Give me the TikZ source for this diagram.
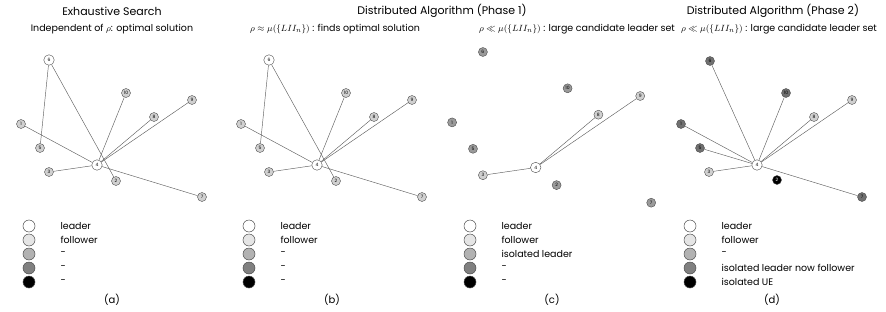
\documentclass[tikz,border=0pt]{standalone}
\usepackage{fontspec}
\setmainfont{Poppins}
\usepackage{amsmath}
\definecolor{follow}{HTML}{D0D0D0}
\definecolor{isol}{HTML}{9A9A9A}
\definecolor{nowfol}{HTML}{707070}
\definecolor{edgegray}{HTML}{606060}
\tikzset{
  ue/.style={circle,draw=black!70,line width=0.4pt,inner sep=0.5pt,minimum size=9pt,font=\fontsize{4.5}{4.5}\selectfont},
  lead/.style={ue,fill=white,minimum size=10.5pt},
  fol/.style={ue,fill=follow},
  iso/.style={ue,fill=isol},
  nowf/.style={ue,fill=nowfol},
  lone/.style={ue,fill=black,text=white},
  link/.style={draw=edgegray,line width=0.45pt},
  legdot/.style={circle,draw=black!70,line width=0.5pt,minimum size=12pt,inner sep=0pt},
  legtxt/.style={anchor=west,font=\fontsize{9.5}{9.5}\selectfont},
  ttl/.style={font=\fontsize{11}{11}\selectfont},
  subttl/.style={font=\fontsize{9.5}{9.5}\selectfont},
  capt/.style={font=\fontsize{10}{10}\selectfont}
}
\begin{document}
\begin{tikzpicture}[x=1pt,y=-1pt]
    \useasboundingbox (0,0) rectangle (886,311);
    % titles
    \node[ttl] (ta) at (112,11) {Exhaustive Search};
    \node[subttl] (sa) at (112,29) {Independent of $\rho$: optimal solution};
    \node[ttl] (tbc) at (442,11) {Distributed Algorithm (Phase 1)};
    \node[subttl] (sb) at (335,29) {$\rho\approx\mu(\{LII_n\})$ : finds optimal solution};
    \node[subttl] (sc) at (577,29) {$\rho\ll\mu(\{LII_n\})$ : large candidate leader set};
    \node[ttl] (td) at (773,11) {Distributed Algorithm (Phase 2)};
    \node[subttl] (sd) at (779,29) {$\rho\ll\mu(\{LII_n\})$ : large candidate leader set};

    % (a) exhaustive search
    \begin{scope}
        \draw (49,60) node[lead] (a6) {6};
        \draw (97,165) node[lead] (a4) {4};
        \draw (126,93) node[fol] (a10) {10};
        \draw (192,100) node[fol] (a9) {9};
        \draw (154,117) node[fol] (a8) {8};
        \draw (21,124) node[fol] (a1) {1};
        \draw (40,148) node[fol] (a5) {5};
        \draw (49,172) node[fol] (a3) {3};
        \draw (116,181) node[fol] (a2) {2};
        \draw (202,197) node[fol] (a7) {7};
        \draw[link] (a6)--(a5);
        \draw[link] (a6)--(a2);
        \draw[link] (a4)--(a1);
        \draw[link] (a4)--(a3);
        \draw[link] (a4)--(a10);
        \draw[link] (a4)--(a8);
        \draw[link] (a4)--(a9);
        \draw[link] (a4)--(a7);
    \end{scope}

    % (b) phase 1, rho close to mu
    \begin{scope}[xshift=220pt]
        \draw (49,60) node[lead] (b6) {6};
        \draw (97,165) node[lead] (b4) {4};
        \draw (126,93) node[fol] (b10) {10};
        \draw (192,100) node[fol] (b9) {9};
        \draw (154,117) node[fol] (b8) {8};
        \draw (21,124) node[fol] (b1) {1};
        \draw (40,148) node[fol] (b5) {5};
        \draw (49,172) node[fol] (b3) {3};
        \draw (116,181) node[fol] (b2) {2};
        \draw (202,197) node[fol] (b7) {7};
        \draw[link] (b6)--(b5);
        \draw[link] (b6)--(b2);
        \draw[link] (b4)--(b1);
        \draw[link] (b4)--(b3);
        \draw[link] (b4)--(b10);
        \draw[link] (b4)--(b8);
        \draw[link] (b4)--(b9);
        \draw[link] (b4)--(b7);
    \end{scope}

    % (c) phase 1, rho much smaller
    \begin{scope}[xshift=429pt,yshift=14pt,scale=1.1]
        \draw (97,165) node[lead] (c4) {4};
        \draw (49,60) node[iso] (c6) {6};
        \draw (126,93) node[iso] (c10) {10};
        \draw (192,100) node[fol] (c9) {9};
        \draw (154,117) node[fol] (c8) {8};
        \draw (21,124) node[iso] (c1) {1};
        \draw (40,148) node[iso] (c5) {5};
        \draw (49,172) node[fol] (c3) {3};
        \draw (116,181) node[iso] (c2) {2};
        \draw (202,197) node[iso] (c7) {7};
        \draw[link] (c4)--(c3);
        \draw[link] (c4)--(c8);
        \draw[link] (c4)--(c9);
    \end{scope}

    % (d) phase 2
    \begin{scope}[xshift=660pt]
        \draw (97,165) node[lead] (d4) {4};
        \draw (50,61) node[nowf] (d6) {6};
        \draw (126,93) node[nowf] (d10) {10};
        \draw (192,100) node[fol] (d9) {9};
        \draw (154,117) node[fol] (d8) {8};
        \draw (21,124) node[nowf] (d1) {1};
        \draw (40,148) node[nowf] (d5) {5};
        \draw (49,172) node[fol] (d3) {3};
        \draw (117,180) node[lone] (d2) {2};
        \draw (202,197) node[nowf] (d7) {7};
        \draw[link] (d4)--(d6);
        \draw[link] (d4)--(d10);
        \draw[link] (d4)--(d9);
        \draw[link] (d4)--(d8);
        \draw[link] (d4)--(d1);
        \draw[link] (d4)--(d5);
        \draw[link] (d4)--(d3);
        \draw[link] (d4)--(d7);
    \end{scope}

    % legends
    \begin{scope}
        \node[legdot,fill=white] (la1) at (29,226) {};
        \node[legdot,fill=black!10] (la2) at (29,240) {};
        \node[legdot,fill=black!30] (la3) at (29,254) {};
        \node[legdot,fill=black!50] (la4) at (29,268) {};
        \node[legdot,fill=black] (la5) at (29,282) {};
        \node[legtxt] at (57,226) {leader};
        \node[legtxt] at (57,240) {follower};
        \node[legtxt] at (57,254) {-};
        \node[legtxt] at (57,268) {-};
        \node[legtxt] at (57,282) {-};
        \node[capt] (capa) at (112,300) {(a)};
    \end{scope}
    \begin{scope}[xshift=220pt]
        \node[legdot,fill=white] (lb1) at (29,226) {};
        \node[legdot,fill=black!10] (lb2) at (29,240) {};
        \node[legdot,fill=black!30] (lb3) at (29,254) {};
        \node[legdot,fill=black!50] (lb4) at (29,268) {};
        \node[legdot,fill=black] (lb5) at (29,282) {};
        \node[legtxt] at (57,226) {leader};
        \node[legtxt] at (57,240) {follower};
        \node[legtxt] at (57,254) {-};
        \node[legtxt] at (57,268) {-};
        \node[legtxt] at (57,282) {-};
        \node[capt] (capb) at (112,300) {(b)};
    \end{scope}
    \begin{scope}[xshift=441pt]
        \node[legdot,fill=white] (lc1) at (29,226) {};
        \node[legdot,fill=black!10] (lc2) at (29,240) {};
        \node[legdot,fill=black!30] (lc3) at (29,254) {};
        \node[legdot,fill=black!50] (lc4) at (29,268) {};
        \node[legdot,fill=black] (lc5) at (29,282) {};
        \node[legtxt] at (57,226) {leader};
        \node[legtxt] at (57,240) {follower};
        \node[legtxt] at (57,254) {isolated leader};
        \node[legtxt] at (57,268) {-};
        \node[legtxt] at (57,282) {-};
        \node[capt] (capc) at (111,300) {(c)};
    \end{scope}
    \begin{scope}[xshift=661pt]
        \node[legdot,fill=white] (ld1) at (29,226) {};
        \node[legdot,fill=black!10] (ld2) at (29,240) {};
        \node[legdot,fill=black!30] (ld3) at (29,254) {};
        \node[legdot,fill=black!50] (ld4) at (29,268) {};
        \node[legdot,fill=black] (ld5) at (29,282) {};
        \node[legtxt] at (57,226) {leader};
        \node[legtxt] at (57,240) {follower};
        \node[legtxt] at (57,254) {-};
        \node[legtxt] at (57,268) {isolated leader now follower};
        \node[legtxt] at (57,282) {isolated UE};
        \node[capt] (capd) at (111,300) {(d)};
    \end{scope}
\end{tikzpicture}
\end{document}
